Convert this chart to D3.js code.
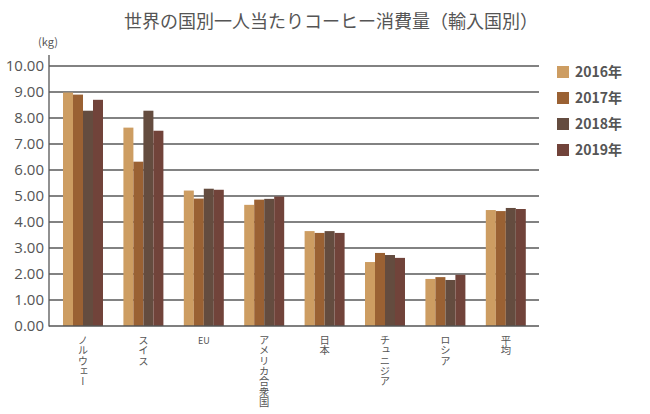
<!DOCTYPE html>
<html><head><meta charset="utf-8">
<script src="https://cdn.jsdelivr.net/npm/d3@7"></script>
<style>body{margin:0;background:#fff}svg{display:block}</style>
</head><body>
<svg id="c" width="650" height="414"></svg>
<script>
const categories = ["ノルウェー","スイス","EU","アメリカ合衆国","日本","チュニジア","ロシア","平均"];
const years = ["2016年","2017年","2018年","2019年"];
const v2016 = [8.98,7.63,5.21,4.66,3.65,2.46,1.81,4.46];
const v2017 = [8.90,6.32,4.90,4.86,3.58,2.81,1.88,4.42];
const v2018 = [8.28,8.28,5.28,4.89,3.65,2.73,1.77,4.54];
const v2019 = [8.70,7.51,5.24,4.98,3.58,2.62,1.97,4.50];
const yTicks = [0,1,2,3,4,5,6,7,8,9,10];
const colors = ["#cd9d62","#9a6133","#644c3f","#71433a"];
const series = [v2016,v2017,v2018,v2019];

const svg = d3.select("#c");
const font = "'Noto Sans CJK JP','Noto Sans',sans-serif";
const x0 = 49, x1 = 539.8, yTop = 66, yBot = 326;
const x = d3.scaleBand().domain(categories).range([x0,x1]).paddingInner(0.338).paddingOuter(0.232);
const xs = d3.scaleBand().domain(d3.range(4)).range([0,x.bandwidth()]);
const y = d3.scaleLinear().domain([0,10]).range([yBot,yTop]);

svg.append("text").attr("x",331).attr("y",28).attr("text-anchor","middle")
  .attr("font-family",font).attr("font-size",18).attr("fill","#555").text("世界の国別一人当たりコーヒー消費量（輸入国別）");
svg.append("text").attr("x",48).attr("y",46).attr("text-anchor","middle")
  .attr("font-family",font).attr("font-size",11).attr("fill","#555").text("(kg)");

// gridlines
svg.append("g").selectAll("line").data(yTicks.filter(d=>d>0)).join("line")
  .attr("x1",x0).attr("x2",539).attr("y1",d=>y(d)).attr("y2",d=>y(d))
  .attr("stroke","#595959").attr("stroke-width",1.3);

// bars
const g = svg.append("g");
series.forEach((s,i)=>{
  g.selectAll(null).data(s).join("rect")
    .attr("x",(d,j)=>x(categories[j])+xs(i)).attr("width",xs.bandwidth())
    .attr("y",d=>y(d)).attr("height",d=>yBot-y(d)).attr("fill",colors[i]);
});

// axes
const ya = svg.append("g").attr("transform",`translate(${x0},0)`)
  .call(d3.axisLeft(y).tickValues(yTicks).tickFormat(d3.format(".2f")).tickSize(0).tickPadding(5));
ya.select(".domain").remove();
ya.selectAll("text").attr("font-family","'Open Sans',sans-serif").attr("font-size",15).attr("fill","#555");
svg.append("line").attr("x1",x0).attr("x2",x0).attr("y1",55).attr("y2",yBot+0.5).attr("stroke","#555").attr("stroke-width",1.3);
svg.append("line").attr("x1",x0).attr("x2",539).attr("y1",yBot).attr("y2",yBot).attr("stroke","#555").attr("stroke-width",1.3);

// vertical x labels
const lab = svg.append("g");
categories.forEach(c=>{
  const cx = x(c)+x.bandwidth()/2;
  if(/^[A-Za-z]+$/.test(c)){
    lab.append("text").attr("x",cx).attr("y",344).attr("text-anchor","middle")
      .attr("font-family",font).attr("font-size",9).attr("fill","#555").text(c);
  } else {
    lab.append("text").attr("x",cx).attr("y",335)
      .style("writing-mode","vertical-rl")
      .attr("font-family",font).attr("font-size",10.3).attr("fill","#555")
      .text(c);
  }
});

// legend
const lg = svg.append("g");
years.forEach((t,i)=>{
  lg.append("rect").attr("x",557).attr("y",66+i*26).attr("width",12).attr("height",12).attr("fill",colors[i]);
  lg.append("text").attr("x",575).attr("y",77+i*26).attr("font-family",font).attr("font-size",14)
    .attr("font-weight","bold").attr("fill","#555").text(t);
});
</script>
</body></html>
